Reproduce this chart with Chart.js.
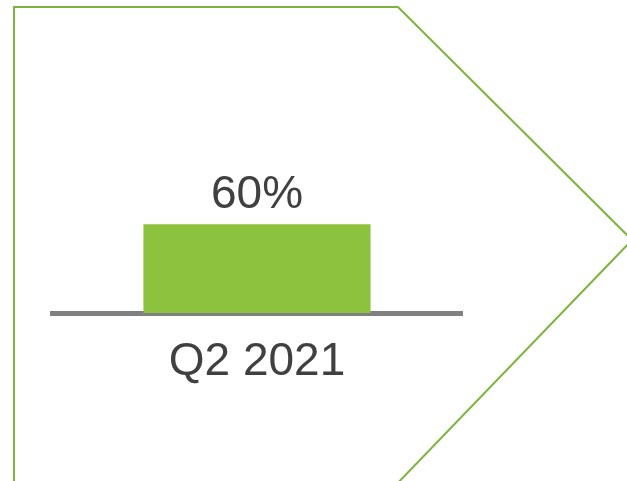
<!DOCTYPE html>
<html>
<head>
<meta charset="utf-8">
<script src="https://cdn.jsdelivr.net/npm/chart.js@4/dist/chart.umd.min.js"></script>
<style>
  html, body { margin: 0; padding: 0; background: #fff; }
  #wrap { width: 627px; height: 481px; position: relative; }
</style>
</head>
<body>
<div id="wrap"><canvas id="quarterChart" width="627" height="481"></canvas></div>
<script>
const categories = ['Q2 2021'];
const shareValues = [60];
const valueLabels = ['60%'];

// green arrow outline behind the chart
const arrowOutline = {
    id: 'arrowOutline',
    beforeDraw(chart) {
        const ctx = chart.ctx;
        ctx.save();
        ctx.strokeStyle = '#7cb53e';
        ctx.lineWidth = 2;
        ctx.beginPath();
        ctx.moveTo(14, 490);
        ctx.lineTo(14, 7);
        ctx.lineTo(398, 7);
        ctx.lineTo(632, 240);
        ctx.lineTo(391, 490);
        ctx.stroke();
        ctx.restore();
    }
};

const valueLabelPlugin = {
    id: 'valueLabelPlugin',
    afterDatasetsDraw(chart) {
        const ctx = chart.ctx;
        const meta = chart.getDatasetMeta(0);
        ctx.save();
        ctx.fillStyle = '#404040';
        ctx.font = '46px "Liberation Sans", Arial, sans-serif';
        ctx.textAlign = 'center';
        ctx.textBaseline = 'alphabetic';
        meta.data.forEach((bar, i) => {
            ctx.fillText(valueLabels[i], bar.x, bar.y - 16);
        });
        ctx.restore();
    }
};

const ctx = document.getElementById('quarterChart').getContext('2d');
const quarterChart = new Chart(ctx, {
    type: 'bar',
    data: {
        labels: categories,
        datasets: [{
            data: shareValues,
            backgroundColor: '#8dc23e',
            borderWidth: 0,
            barPercentage: 0.554,
            categoryPercentage: 1
        }]
    },
    options: {
        responsive: false,
        animation: false,
        layout: { padding: { left: 52, right: 165, top: 165, bottom: 0 } },
        plugins: { legend: { display: false }, tooltip: { enabled: false } },
        scales: {
            x: {
                z: 1,
                grid: { display: false, drawTicks: false },
                border: { display: true, color: '#808080', width: 5 },
                ticks: {
                    color: '#404040',
                    padding: 22,
                    font: { family: '"Liberation Sans", Arial, sans-serif', size: 46 }
                },
                afterFit(scale) { scale.height = 168; }
            },
            y: {
                display: false,
                min: 0,
                max: 100
            }
        }
    },
    plugins: [arrowOutline, valueLabelPlugin]
});
</script>
</body>
</html>
